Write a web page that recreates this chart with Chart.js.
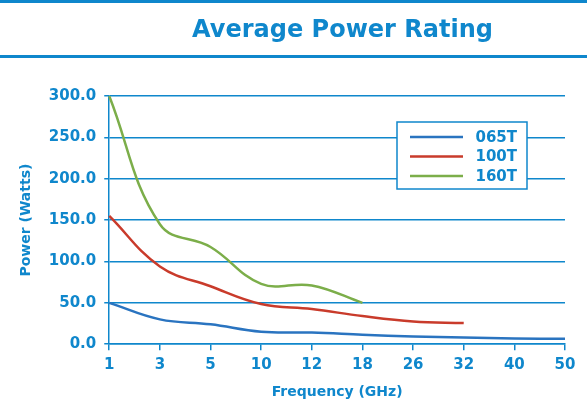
<!DOCTYPE html>
<html>
<head>
<meta charset="utf-8">
<script src="https://cdn.jsdelivr.net/npm/chart.js@4"></script>
<style>
  body { margin: 0; background: #fff; }
  #wrap { position: relative; width: 587px; height: 401px; }
  #head {
    position: absolute; left: 0; top: 0; width: 587px; height: 52px;
    border-top: 3px solid #0f87cc; border-bottom: 3px solid #0f87cc;
    font: bold 24px "DejaVu Sans", sans-serif; color: #0f87cc;
    line-height: 52px; text-align: center; box-sizing: content-box;
    text-indent: 98px;
  }
  canvas { position: absolute; left: 0; top: 0; }
</style>
</head>
<body>
<div id="wrap">
  <canvas id="powerChart" width="587" height="401"></canvas>
  <div id="head">Average Power Rating</div>
</div>
<script>
// Chart data
const freqs = ["1", "3", "5", "10", "12", "18", "26", "32", "40", "50"];
const seriesNames = ["065T", "100T", "160T"];
const power065 = [50, 30, 24, 15, 14, 11.5, 9.3, 8, 7, 6.5];
const power100 = [155, 94, 70, 48.5, 42.5, 34, 27.5, 25.5, null, null];
const power160 = [300, 145, 117.5, 73, 71, 50, null, null, null, null];
const yTicks = [0, 50, 100, 150, 200, 250, 300];

const blue = "#0f87cc";
const lineColors = ["#2a74c0", "#c93b2b", "#7cae4a"];

// Boxed legend on the right, drawn over the grid
const boxLegend = {
  id: "boxLegend",
  afterDatasetsDraw(chart) {
    const ctx = chart.ctx;
    ctx.save();
    ctx.fillStyle = "#fff";
    ctx.fillRect(397, 122, 130, 67);
    ctx.strokeStyle = blue;
    ctx.lineWidth = 1.5;
    ctx.strokeRect(397, 122, 130, 67);
    ctx.font = "bold 15px 'DejaVu Sans', sans-serif";
    ctx.textAlign = "right";
    ctx.textBaseline = "middle";
    chart.data.datasets.forEach((ds, i) => {
      const y = 137 + i * 19.5;
      ctx.strokeStyle = ds.borderColor;
      ctx.lineWidth = 2.5;
      ctx.beginPath();
      ctx.moveTo(410, y);
      ctx.lineTo(463, y);
      ctx.stroke();
      ctx.fillStyle = blue;
      ctx.fillText(ds.label, 517, y + 1);
    });
    ctx.restore();
  }
};

const values = [power065, power100, power160];

new Chart(document.getElementById("powerChart"), {
  type: "line",
  data: {
    labels: freqs,
    datasets: seriesNames.map((name, i) => ({
      label: name,
      data: values[i],
      borderColor: lineColors[i],
      borderWidth: 2.5,
      pointRadius: 0,
      tension: 0.4,
      fill: false
    }))
  },
  options: {
    responsive: false,
    animation: false,
    layout: { padding: { top: 96, right: 22, left: 18, bottom: 0 } },
    plugins: {
      legend: { display: false },
      tooltip: { enabled: false }
    },
    scales: {
      x: {
        offset: false,
        grid: { drawOnChartArea: false, color: blue, lineWidth: 1.5, tickLength: 6 },
        border: { color: blue, width: 1.5 },
        ticks: {
          color: blue, padding: 6, maxRotation: 0, autoSkip: false,
          font: { family: "DejaVu Sans", weight: "bold", size: 15 }
        },
        title: {
          display: true, text: "Frequency (GHz)", color: blue,
          padding: { top: 4, bottom: 0 },
          font: { family: "DejaVu Sans", weight: "bold", size: 14 }
        }
      },
      y: {
        min: 0,
        max: 300,
        afterBuildTicks(axis) { axis.ticks = yTicks.map(v => ({ value: v })); },
        grid: { color: blue, lineWidth: 1.5, tickLength: 5 },
        border: { color: blue, width: 1.5 },
        ticks: {
          color: blue, padding: 8,
          font: { family: "DejaVu Sans", weight: "bold", size: 15 },
          callback: v => v.toFixed(1)
        },
        title: {
          display: true, text: "Power (Watts)", color: blue,
          padding: { top: 0, bottom: 6 },
          font: { family: "DejaVu Sans", weight: "bold", size: 14 }
        }
      }
    }
  },
  plugins: [boxLegend]
});
</script>
</body>
</html>
